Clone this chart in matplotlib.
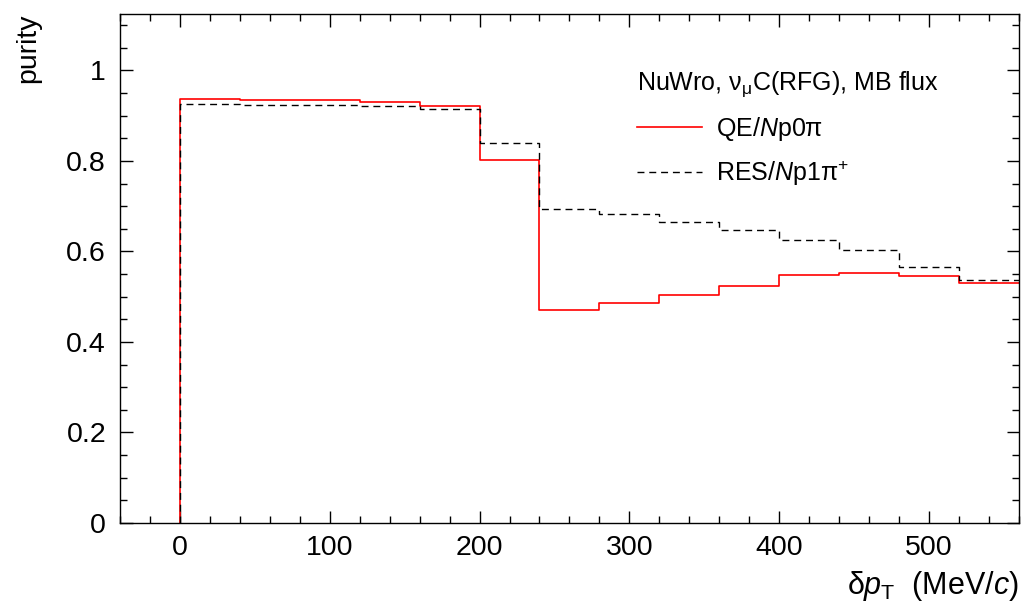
import numpy as np
import matplotlib.pyplot as plt
from matplotlib.ticker import MultipleLocator

plt.rcParams['font.family'] = ['Liberation Sans', 'DejaVu Sans']
plt.rcParams['mathtext.fontset'] = 'custom'
plt.rcParams['mathtext.rm'] = 'Liberation Sans'
plt.rcParams['mathtext.it'] = 'Liberation Sans:italic'

# bin edges in MeV/c
bin_edges = np.arange(0, 561, 40)
# QE / Np0pi purity
qe_purity = [0.937, 0.935, 0.935, 0.930, 0.922, 0.802, 0.471, 0.486,
             0.504, 0.524, 0.548, 0.552, 0.546, 0.530]
# RES / Np1pi+ purity
res_purity = [0.926, 0.924, 0.924, 0.922, 0.915, 0.840, 0.694, 0.683,
              0.665, 0.647, 0.625, 0.603, 0.566, 0.537]

fig = plt.figure(figsize=(10.22, 6.06), dpi=100)
ax = fig.add_axes([0.1174, 0.137, 0.8796, 0.840])

def steps(vals):
    x = np.concatenate([[bin_edges[0]], bin_edges])
    y = np.concatenate([[0], vals, [vals[-1]]])
    return x, y

x, y = steps(qe_purity)
ax.step(x, y, where='post', color='red', lw=1.2, label=r'QE/$\it{N}$p0π')
x, y = steps(res_purity)
ax.step(x, y, where='post', color='black', lw=1.0, linestyle=(0, (5, 3.5)),
        label=r'RES/$\it{N}$p1π$^{\mathrm{+}}$')

ax.set_xlim(-40, 560)
ax.set_ylim(0, 1.125)
ax.xaxis.set_major_locator(MultipleLocator(100))
ax.xaxis.set_minor_locator(MultipleLocator(20))
ax.yaxis.set_major_locator(MultipleLocator(0.2))
ax.yaxis.set_minor_locator(MultipleLocator(0.05))
ax.yaxis.set_major_formatter(plt.FuncFormatter(lambda v, p: f'{v:g}'))
ax.tick_params(which='both', direction='in', top=True, right=True, labelsize=20.5)
ax.tick_params(which='major', length=9, width=1)
ax.tick_params(which='minor', length=5, width=1)
ax.tick_params(axis='x', pad=9)
ax.tick_params(axis='y', pad=10)
for s in ax.spines.values():
    s.set_linewidth(1.0)

ax.set_ylabel('purity', loc='top', fontsize=20.5)
ax.yaxis.set_label_coords(-0.088, 1.0)
ax.set_xlabel(r'δ$\it{p}_{\mathrm{T}}$  (MeV/$\it{c}$)', loc='right', fontsize=22)
ax.xaxis.set_label_coords(1.0, -0.09)

leg = ax.legend(title=r'NuWro, ν$_{\mathrm{μ}}$C(RFG), MB flux', loc='upper left',
                bbox_to_anchor=(0.553, 0.93), frameon=False, fontsize=18,
                title_fontsize=18, handlelength=2.6, handletextpad=0.55,
                labelspacing=0.62, alignment='left', borderpad=0.3)

fig.savefig('out.png', dpi=100)
